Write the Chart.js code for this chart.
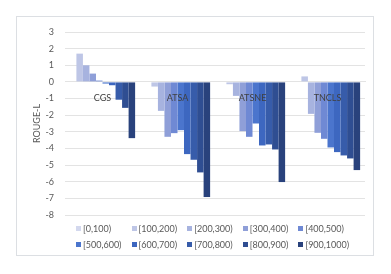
<!DOCTYPE html>
<html>
<head>
<meta charset="utf-8">
<script src="https://cdn.jsdelivr.net/npm/chart.js@4.4.1/dist/chart.umd.min.js"></script>
<style>
  html, body { margin: 0; padding: 0; background: #fff; }
  #wrap { position: relative; width: 391px; height: 274px; overflow: hidden; }
  #frame { position: absolute; left: 16px; top: 16px; width: 358px; height: 240px; border: 1px solid #dcdfe3; box-sizing: border-box; }
  #chart { position: absolute; left: 0; top: 0; }
  #legend { position: absolute; left: 0; top: 0; font-family: Lato, sans-serif; font-size: 9px; color: #595959; }
  .item { position: absolute; height: 12px; line-height: 12px; white-space: nowrap; }
  .item span { display: inline-block; width: 5px; height: 5px; margin-right: 2px; vertical-align: 1px; }
</style>
</head>
<body>
<div id="wrap">
  <div id="frame"></div>
  <canvas id="chart" width="391" height="274"></canvas>
  <div id="legend"></div>
</div>
<script>
// categories on the x axis
const categories = ['CGS', 'ATSA', 'ATSNE', 'TNCLS'];
// length bins (one series each)
const bins = ['[0,100)', '[100,200)', '[200,300)', '[300,400)', '[400,500)',
              '[500,600)', '[600,700)', '[700,800)', '[800,900)', '[900,1000)'];

// ROUGE-L change per bin, one array per category
const cgsValues   = [0, 1.70, 1.00, 0.50, 0.08, -0.10, -0.20, -1.07, -1.56, -3.38];
const atsaValues  = [0, -0.28, -1.74, -3.30, -3.08, -2.90, -4.34, -4.68, -5.44, -6.92];
const atsneValues = [0, -0.14, -0.84, -2.96, -3.30, -2.50, -3.82, -3.76, -4.06, -6.02];
const tnclsValues = [0, 0.33, -1.92, -3.06, -3.42, -3.94, -4.22, -4.42, -4.60, -5.30];

const yTicks = [3, 2, 1, 0, -1, -2, -3, -4, -5, -6, -7, -8];

const binColors = ['#d3d8ee', '#bec6e6', '#a7b3df', '#8f9fd8', '#6f89d4',
                   '#4b75cd', '#3d67c0', '#375caa', '#2f4e92', '#29427c'];

const byCategory = [cgsValues, atsaValues, atsneValues, tnclsValues];

const datasets = bins.map((bin, i) => ({
    label: bin,
    data: byCategory.map(vals => vals[i]),
    backgroundColor: binColors[i]
}));

Chart.defaults.font.family = 'Lato, sans-serif';

new Chart(document.getElementById('chart'), {
    type: 'bar',
    data: { labels: categories, datasets: datasets },
    options: {
        responsive: false,
        animation: false,
        devicePixelRatio: 1,
        layout: { padding: { left: 0, right: 26, top: 32, bottom: 59 } },
        datasets: { bar: { categoryPercentage: 0.87, barPercentage: 1 } },
        plugins: {
            legend: { display: false },
            tooltip: { enabled: false }
        },
        scales: {
            x: {
                position: { y: 0 },
                grid: { display: false },
                border: { color: '#e3e3e3' },
                ticks: { z: 1, padding: 3, color: '#404040', font: { size: 9 } }
            },
            y: {
                min: Math.min(...yTicks),
                max: Math.max(...yTicks),
                ticks: { stepSize: 1, padding: 11, color: '#595959', font: { size: 9 } },
                grid: { color: '#e3e3e3', drawTicks: false },
                border: { display: false },
                title: {
                    display: true,
                    text: 'ROUGE-L',
                    color: '#595959',
                    font: { size: 9 },
                    padding: { top: 32, bottom: 0 }
                },
                afterFit(scale) { scale.width = 65; }
            }
        }
    }
});

// legend, two rows of five like the original
const legend = document.getElementById('legend');
bins.forEach((bin, i) => {
    const el = document.createElement('div');
    el.className = 'item';
    el.style.left = (76 + (i % 5) * 55.6) + 'px';
    el.style.top = (i < 5 ? 222.5 : 238.5) + 'px';
    el.innerHTML = '<span style="background:' + binColors[i] + '"></span>' + bin;
    legend.appendChild(el);
});
</script>
</body>
</html>
